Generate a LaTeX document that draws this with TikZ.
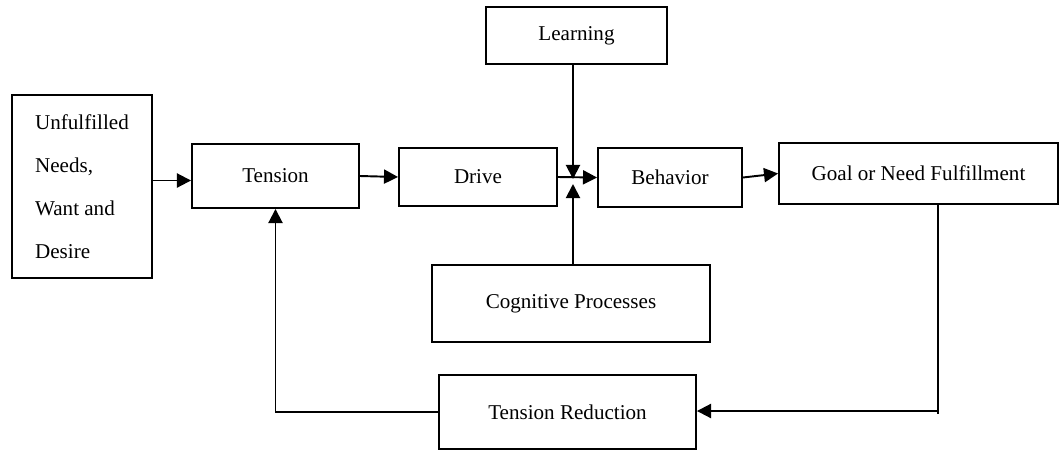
\documentclass[tikz,border=0pt]{standalone}
\usepackage{fontspec}
\setmainfont{Liberation Serif}
\usetikzlibrary{arrows.meta,calc}

\tikzset{
  stage/.style={draw, line width=1.1pt, inner sep=0pt, align=center,
    font=\fontsize{12}{14}\selectfont},
  flow/.style={line width=1.1pt, -{Triangle[length=8pt,width=8pt]}},
  plain/.style={line width=1.1pt}
}

\begin{document}
\begin{tikzpicture}[x=0.02cm,y=-0.02cm] % motivation cycle
        \useasboundingbox (0,0) rectangle (1063,451);
        % boxes
        \node[stage, minimum width=2.8cm, minimum height=3.66cm,
          align=left, font=\fontsize{12}{24.4}\selectfont] (need) at (82,186.5)
          {Unfulfilled\\ Needs,\\ Want and\\ Desire};
        \node[stage, minimum width=3.34cm, minimum height=1.28cm] (tension) at (275.5,176) {Tension};
        \node[stage, minimum width=3.16cm, minimum height=1.16cm] (drive) at (478,177) {Drive};
        \node[stage, minimum width=2.88cm, minimum height=1.18cm] (behavior) at (670,177.5) {Behavior};
        \node[stage, minimum width=5.58cm, minimum height=1.22cm] (goal) at (918.5,173.5) {Goal or Need Fulfillment};
        \node[stage, minimum width=3.62cm, minimum height=1.14cm] (learning) at (576.5,35.5) {Learning};
        \node[stage, minimum width=5.56cm, minimum height=1.54cm] (cognitive) at (571,303.5) {Cognitive Processes};
        \node[stage, minimum width=5.14cm, minimum height=1.48cm] (reduction) at (567.5,412) {Tension Reduction};
        % meeting point and corner
        \coordinate (j) at (573,181);
        \coordinate (c) at (938,411);
        % connectors
        \draw[flow] ([yshift=0.12cm]need.east) -- ([yshift=0.12cm]need.east -| tension.west);
        \draw[flow] (tension.east) -- (drive.west);
        \draw[flow] (drive.east) -- (behavior.west);
        \draw[flow] (learning.south -| j) -- ($(j)+(0,-2)$);
        \draw[flow] (cognitive.north -| j) -- ($(j)+(0,3)$);
        \draw[flow] (behavior.east) -- (goal.west);
        \draw[plain] (goal.south -| c) -- ($(c)+(0,3)$);
        \draw[flow] (c) -- (reduction.east |- c);
        \draw[flow] (reduction.west) -| (tension.south);
      \end{tikzpicture}
\end{document}
